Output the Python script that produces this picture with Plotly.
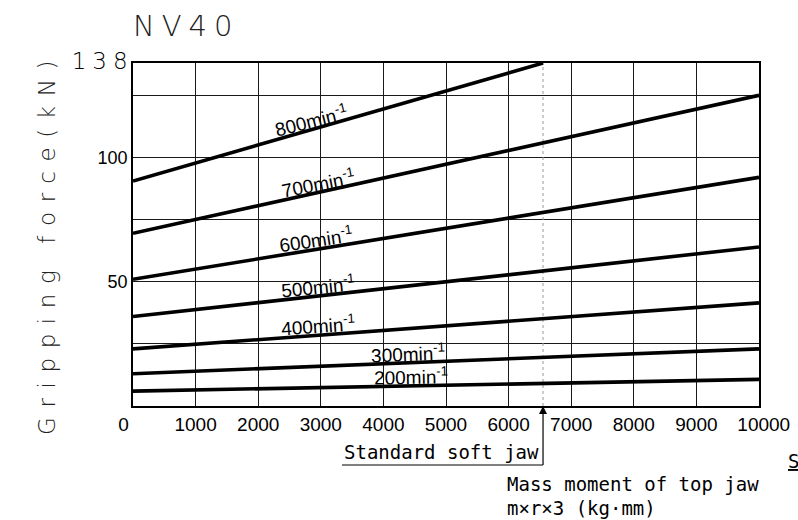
import numpy as np
import plotly.graph_objects as go

# ---------------- data ----------------
SPEEDS = ["800", "700", "600", "500", "400", "300", "200"]          # min^-1
X_START = [0, 0, 0, 0, 0, 0, 0]                                     # kg·mm
X_END = [6550, 10000, 10000, 10000, 10000, 10000, 10000]
F_START = [90.5, 69.5, 51.0, 36.0, 23.0, 13.0, 6.0]                 # kN
F_END = [138.0, 125.0, 92.0, 64.0, 41.5, 23.0, 10.7]
STANDARD_JAW = 6550
X_TICKS = [0, 1000, 2000, 3000, 4000, 5000, 6000, 7000, 8000, 9000, 10000]
X_TICK_TEXT = ["0", "1000", "2000", "3000", "4000", "5000", "6000", "7000", "8000", "9000", "10000"]
Y_TICKS = [50, 100, 138]
Y_TICK_TEXT = ["50", "100", "138"]
Y_GRID_STEP = 25

# ---------------- layout helpers ----------------
W, H = 798, 520
ML, MR, MT, MB = 133, 39, 63, 114
PW, PH = W - ML - MR, H - MT - MB


def px_x(p):
    return (p - ML) / PW


def px_y(p):
    return (H - MB - p) / PH


def data_x(p):
    return (p - ML) / PW * 10000


THIN = "DejaVu Sans, Liberation Sans, sans-serif"
NUM = "Liberation Sans, Arial, sans-serif"
MONO = "DejaVu Sans Mono, Liberation Mono, monospace"

fig = go.Figure()

# standard soft jaw dotted marker line
fig.add_trace(go.Scatter(x=[STANDARD_JAW, STANDARD_JAW], y=[0, 138], mode="lines",
                         line=dict(color="#9a9a9a", width=1, dash="dot"),
                         hoverinfo="skip", showlegend=False))

# speed curves
for s, xs, xe, fs, fe in zip(SPEEDS, X_START, X_END, F_START, F_END):
    fig.add_trace(go.Scatter(x=[xs, xe], y=[fs, fe], mode="lines", name=s + " min-1",
                             line=dict(color="black", width=3.6), showlegend=False))

# arrow head pointing at the standard jaw position on the x axis
fig.add_trace(go.Scatter(x=[STANDARD_JAW], y=[0], mode="markers", cliponaxis=False,
                         marker=dict(symbol="arrow-up", size=8, color="black"),
                         hoverinfo="skip", showlegend=False))

# labels along curves
LABEL_X = [2850, 2950, 2920, 2950, 2950, 4400, 4440]
LABEL_ANGLE = [-14, -11, -8.5, -5.5, -4, -2.2, -1]
annotations = []
for s, xs, xe, fs, fe, lx, ang in zip(SPEEDS, X_START, X_END, F_START, F_END, LABEL_X, LABEL_ANGLE):
    ly = float(np.interp(lx, [xs, xe], [fs, fe]))
    annotations.append(dict(x=lx, y=ly, xref="x", yref="y", text=s + "min<sup>-1</sup>",
                            showarrow=False, textangle=ang, yshift=10,
                            font=dict(family=NUM, size=19, color="black")))

# y-axis title (letter-spaced, drawn as annotation for placement)
annotations.append(dict(x=px_x(32), y=px_y(243), xref="paper", yref="paper",
                        text="<span style='letter-spacing:9.6px'>Gripping force(kN)</span>",
                        textangle=-90, showarrow=False,
                        font=dict(family=THIN, size=23, color="#222", weight=300)))

# bottom annotations
annotations.append(dict(x=px_x(342), y=px_y(452), xref="paper", yref="paper", xanchor="left",
                        yanchor="middle", text="Standard soft jaw", showarrow=False,
                        font=dict(family=MONO, size=19, color="black")))
annotations.append(dict(x=px_x(505), y=px_y(484), xref="paper", yref="paper", xanchor="left",
                        yanchor="middle", text="Mass moment of top jaw", showarrow=False,
                        font=dict(family=MONO, size=19, color="black")))
annotations.append(dict(x=px_x(505), y=px_y(508), xref="paper", yref="paper", xanchor="left",
                        yanchor="middle", text="m×r×3 (kg·mm)", showarrow=False,
                        font=dict(family=MONO, size=19, color="black")))
annotations.append(dict(x=px_x(786), y=px_y(461), xref="paper", yref="paper", xanchor="left",
                        yanchor="middle", text="<u>S</u>", showarrow=False,
                        font=dict(family=MONO, size=19, color="black")))

shapes = [
    dict(type="line", xref="x", yref="paper", x0=data_x(342), x1=STANDARD_JAW,
         y0=px_y(465), y1=px_y(465), line=dict(color="black", width=1.2)),
    dict(type="line", xref="x", yref="paper", x0=STANDARD_JAW, x1=STANDARD_JAW,
         y0=px_y(465), y1=px_y(410), line=dict(color="black", width=1.2)),
]

x_text = [t for t in X_TICK_TEXT]
x_text[0] = X_TICK_TEXT[0] + "\u2002\u2002"
x_text[-1] = "\u2002" + X_TICK_TEXT[-1]
y_text = [t for t in Y_TICK_TEXT]
top = Y_TICK_TEXT[-1]
y_text[-1] = ("<span style='font-family:DejaVu Sans;font-weight:300;font-size:23px'>"
              "<span style='letter-spacing:6px'>" + top[:-1] + "</span>" + top[-1] + "</span>")

fig.update_layout(
    width=W, height=H,
    margin=dict(l=ML, r=MR, t=MT, b=MB, autoexpand=False),
    paper_bgcolor="white", plot_bgcolor="white",
    showlegend=False,
    title=dict(text="<span style='letter-spacing:7px'>NV40</span>", x=ML / W, xanchor="left",
               y=1 - 26 / H, yanchor="middle", yref="container",
               font=dict(family=THIN, size=29, color="#222", weight=300)),
    xaxis=dict(range=[0, 10000], tickvals=X_TICKS, ticktext=x_text, showgrid=True,
               gridcolor="#1a1a1a", gridwidth=1.3, showline=True, linecolor="black",
               linewidth=1.6, mirror=True, ticks="", zeroline=False,
               tickfont=dict(family=NUM, size=19, color="black"), tickangle=0,
               automargin=False),
    yaxis=dict(range=[0, 138], tickvals=Y_TICKS, ticktext=y_text, showgrid=True,
               gridcolor="#1a1a1a", gridwidth=1.3, showline=True, linecolor="black",
               linewidth=1.6, mirror=True, ticks="", zeroline=False,
               minor=dict(tick0=0, dtick=Y_GRID_STEP, showgrid=True, gridcolor="#1a1a1a",
                          gridwidth=1.3, ticks=""),
               tickfont=dict(family=NUM, size=18, color="black"), automargin=False),
    annotations=annotations,
    shapes=shapes,
)

fig.write_html("out.html", post_script="document.body.style.margin='0';",
               config={"displayModeBar": False})
